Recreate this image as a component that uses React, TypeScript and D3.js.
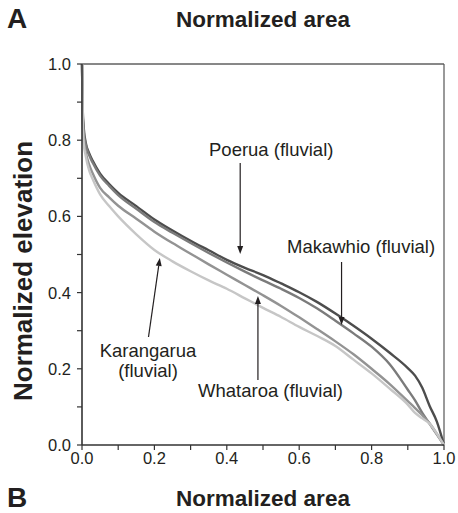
import React from "react";
import * as d3 from "d3";

// Normalized area (x) shared by all hypsometric curves
const areaValues = [0, 0.002, 0.005, 0.01, 0.02, 0.03, 0.05, 0.075, 0.1, 0.15, 0.2, 0.25, 0.3, 0.35, 0.4, 0.45, 0.5, 0.55, 0.6, 0.65, 0.7, 0.75, 0.8, 0.85, 0.9, 0.92, 0.94, 0.96, 0.98, 1.0];

// Normalized elevation for each catchment
const poerua = [1.0, 0.88, 0.83, 0.795, 0.765, 0.745, 0.712, 0.685, 0.662, 0.627, 0.592, 0.563, 0.536, 0.511, 0.486, 0.465, 0.446, 0.424, 0.401, 0.375, 0.345, 0.313, 0.279, 0.242, 0.202, 0.182, 0.15, 0.103, 0.062, 0.0];
const makawhio = [1.0, 0.87, 0.82, 0.79, 0.76, 0.74, 0.707, 0.68, 0.656, 0.62, 0.585, 0.557, 0.53, 0.504, 0.479, 0.455, 0.432, 0.41, 0.386, 0.358, 0.326, 0.293, 0.258, 0.212, 0.145, 0.117, 0.084, 0.056, 0.028, 0.0];
const whataroa = [1.0, 0.86, 0.8, 0.77, 0.735, 0.712, 0.675, 0.65, 0.628, 0.594, 0.56, 0.53, 0.502, 0.474, 0.447, 0.42, 0.393, 0.365, 0.335, 0.304, 0.272, 0.238, 0.2, 0.16, 0.115, 0.097, 0.078, 0.057, 0.03, 0.0];
const karangarua = [1.0, 0.85, 0.79, 0.76, 0.72, 0.697, 0.658, 0.627, 0.6, 0.553, 0.512, 0.482, 0.456, 0.432, 0.41, 0.385, 0.36, 0.336, 0.31, 0.286, 0.26, 0.224, 0.188, 0.148, 0.106, 0.084, 0.07, 0.056, 0.03, 0.0];

const seriesNames = ["Poerua", "Makawhio", "Whataroa", "Karangarua"];
const seriesValues = [poerua, makawhio, whataroa, karangarua];
const seriesColors = ["#4d4d4d", "#7b7b7b", "#939393", "#c6c6c6"];

const tickValues = [0, 0.1, 0.2, 0.3, 0.4, 0.5, 0.6, 0.7, 0.8, 0.9, 1.0];
const labelValues = [0, 0.2, 0.4, 0.6, 0.8, 1.0];

const W = 458;
const H = 513;
const left = 82;
const right = 444;
const top = 64;
const bottom = 445;

const FONT = "'Liberation Sans', Arial, Helvetica, sans-serif";
const INK = "#231f20";

export default function App() {
  const x = d3.scaleLinear().domain([0, 1]).range([left, right]);
  const y = d3.scaleLinear().domain([0, 1]).range([bottom, top]);

  const line = d3
    .line<[number, number]>()
    .x((d) => x(d[0]))
    .y((d) => y(d[1]))
    .curve(d3.curveMonotoneX);

  const arrow = (x1: number, y1: number, x2: number, y2: number, key: string) => {
    const ang = Math.atan2(y2 - y1, x2 - x1);
    const len = 8;
    const half = 3;
    const bx = x2 - len * Math.cos(ang);
    const by = y2 - len * Math.sin(ang);
    const px = -Math.sin(ang) * half;
    const py = Math.cos(ang) * half;
    return (
      <g key={key}>
        <line x1={x1} y1={y1} x2={bx} y2={by} stroke={INK} strokeWidth={1.2} />
        <path d={`M${x2},${y2}L${bx + px},${by + py}L${bx - px},${by - py}Z`} fill={INK} />
      </g>
    );
  };

  return (
    <svg
      width={W}
      height={H}
      style={{ position: "absolute", left: 0, top: 0, background: "#fff" }}
      fontFamily={FONT}
    >
      <rect width={W} height={H} fill="#fff" />

      {/* panel letters and top axis title */}
      <text x={7} y={28} fontSize={28} fontWeight="bold" fill={INK}>A</text>
      <text x={263} y={27} fontSize={22.5} fontWeight="bold" fill={INK} textAnchor="middle">Normalized area</text>
      <text x={7} y={507} fontSize={28} fontWeight="bold" fill={INK}>B</text>
      <text x={263} y={506} fontSize={22.5} fontWeight="bold" fill={INK} textAnchor="middle">Normalized area</text>

      {/* frame */}
      <line x1={left} y1={top} x2={right} y2={top} stroke="#111" strokeWidth={1} />
      <line x1={right} y1={top} x2={right} y2={bottom} stroke="#555" strokeWidth={1.2} />

      {/* curves */}
      {seriesValues.map((vals, i) => (
        <path
          key={seriesNames[i]}
          d={line(areaValues.map((a, j) => [a, vals[j]] as [number, number])) || ""}
          fill="none"
          stroke={seriesColors[i]}
          strokeWidth={2.4}
          strokeLinejoin="round"
        />
      ))}

      {/* axes */}
      <line x1={left} y1={top} x2={left} y2={bottom} stroke="#333" strokeWidth={1.6} />
      <line x1={left} y1={bottom} x2={right} y2={bottom} stroke="#333" strokeWidth={1.6} />
      {tickValues.map((t) => (
        <g key={`t${t}`}>
          <line x1={left - 5} x2={left} y1={y(t)} y2={y(t)} stroke="#333" strokeWidth={1.2} />
          <line x1={x(t)} x2={x(t)} y1={bottom} y2={bottom + 5} stroke="#333" strokeWidth={1.2} />
        </g>
      ))}
      {labelValues.map((t) => (
        <g key={`l${t}`}>
          <text x={left - 11} y={y(t) + 6} fontSize={16.5} textAnchor="end" fill={INK}>
            {d3.format(".1f")(t)}
          </text>
          <text x={x(t)} y={464} fontSize={16.5} textAnchor="middle" fill={INK}>
            {d3.format(".1f")(t)}
          </text>
        </g>
      ))}

      <text
        transform={`translate(32,271) rotate(-90)`}
        fontSize={26}
        fontWeight="bold"
        textAnchor="middle"
        fill={INK}
      >
        Normalized elevation
      </text>

      {/* annotations */}
      <text x={209} y={156} fontSize={18.5} fill={INK}>Poerua (fluvial)</text>
      {arrow(x(0.437), 163, x(0.437), 254, "a1")}

      <text x={287} y={253} fontSize={18.5} fill={INK}>Makawhio (fluvial)</text>
      {arrow(x(0.717), 262, x(0.717), 325, "a2")}

      <text x={198} y={397} fontSize={18.5} fill={INK}>Whataroa (fluvial)</text>
      {arrow(x(0.486), 380, x(0.486), 296, "a3")}

      <text x={148} y={357} fontSize={18.5} fill={INK} textAnchor="middle">Karangarua</text>
      <text x={148} y={377} fontSize={18.5} fill={INK} textAnchor="middle">(fluvial)</text>
      {arrow(148.5, 337, x(0.215), 258, "a4")}
    </svg>
  );
}
